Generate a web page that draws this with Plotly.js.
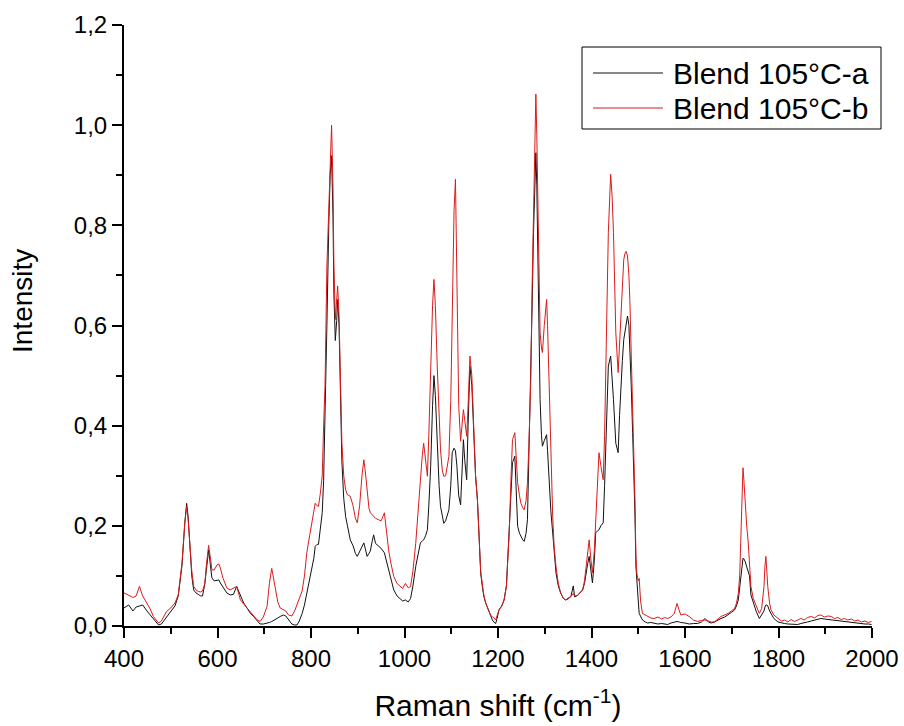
<!DOCTYPE html>
<html>
<head>
<meta charset="utf-8">
<script src="https://cdn.plot.ly/plotly-3.0.1.min.js"></script>
<style>html,body{margin:0;padding:0;background:#fff;}#chart{width:904px;height:726px;}</style>
</head>
<body>
<div id="chart"></div>
<script>
// Raman shift (cm^-1)
const ramanShift = [400,410,419,426,433,440,449,456,463,469,474,480,485,491,500,509,516,524,530,534,537,541,545,549,554,559,564,568,573,576,581,585,588,593,599,603,606,612,620,627,634,641,645,649,656,663,670,677,684,691,698,706,711,716,720,724,729,734,741,746,752,759,765,770,775,781,786,791,797,802,806,809,813,816,820,824,827,830,834,838,841,844,847,849,852,855,857,860,863,866,870,874,878,884,890,895,899,904,909,913,916,920,924,927,931,934,938,945,950,957,961,966,971,977,984,991,996,1002,1008,1013,1018,1024,1030,1034,1038,1041,1045,1049,1052,1056,1060,1063,1066,1070,1074,1077,1081,1084,1088,1091,1095,1099,1102,1106,1109,1112,1116,1120,1123,1126,1129,1133,1136,1140,1144,1149,1152,1156,1160,1163,1167,1170,1174,1180,1184,1188,1191,1195,1198,1202,1208,1213,1218,1224,1228,1231,1236,1239,1242,1246,1249,1253,1256,1260,1263,1266,1270,1273,1276,1279,1281,1283,1286,1290,1293,1295,1299,1304,1306,1309,1313,1317,1320,1324,1329,1334,1340,1345,1350,1356,1361,1364,1370,1376,1381,1385,1388,1392,1395,1399,1402,1406,1409,1413,1416,1420,1425,1428,1431,1436,1441,1444,1447,1452,1457,1460,1463,1466,1469,1472,1474,1477,1480,1482,1485,1488,1491,1493,1495,1497,1500,1502,1505,1509,1515,1520,1527,1534,1542,1550,1556,1563,1570,1577,1583,1588,1591,1600,1609,1618,1627,1635,1643,1650,1656,1663,1670,1677,1685,1692,1699,1706,1710,1714,1717,1720,1722,1724,1726,1729,1732,1735,1738,1741,1746,1752,1759,1764,1769,1771,1773,1775,1777,1781,1784,1790,1799,1806,1813,1820,1827,1834,1841,1848,1855,1862,1870,1877,1884,1891,1898,1906,1913,1920,1927,1934,1941,1948,1956,1963,1970,1977,1985,1992,1999];

// Blend 105°C-a (black)
const blendA = [0.036,0.042,0.030,0.038,0.040,0.042,0.030,0.022,0.016,0.008,0.002,0.004,0.010,0.018,0.028,0.040,0.060,0.120,0.205,0.245,0.220,0.150,0.100,0.072,0.066,0.063,0.060,0.060,0.085,0.110,0.152,0.120,0.096,0.090,0.092,0.092,0.086,0.078,0.066,0.062,0.063,0.079,0.070,0.060,0.046,0.036,0.026,0.019,0.012,0.004,0.004,0.005,0.007,0.009,0.011,0.012,0.016,0.019,0.022,0.020,0.012,0.004,0.002,0.002,0.010,0.025,0.042,0.066,0.090,0.113,0.135,0.159,0.163,0.163,0.192,0.226,0.290,0.400,0.600,0.800,0.900,0.939,0.820,0.660,0.570,0.610,0.652,0.600,0.470,0.330,0.255,0.219,0.200,0.172,0.160,0.145,0.139,0.150,0.160,0.166,0.155,0.139,0.145,0.150,0.170,0.182,0.165,0.159,0.155,0.146,0.130,0.112,0.092,0.072,0.060,0.055,0.050,0.052,0.048,0.055,0.080,0.119,0.150,0.166,0.170,0.172,0.180,0.192,0.240,0.319,0.440,0.500,0.460,0.352,0.280,0.239,0.215,0.205,0.210,0.218,0.232,0.280,0.346,0.355,0.350,0.320,0.260,0.242,0.320,0.372,0.330,0.292,0.400,0.519,0.480,0.362,0.300,0.252,0.165,0.105,0.075,0.058,0.045,0.030,0.022,0.012,0.008,0.005,0.015,0.032,0.040,0.052,0.080,0.186,0.280,0.326,0.339,0.280,0.199,0.185,0.179,0.172,0.169,0.185,0.212,0.330,0.480,0.640,0.786,0.900,0.945,0.880,0.652,0.452,0.380,0.359,0.370,0.382,0.350,0.286,0.230,0.186,0.145,0.106,0.080,0.066,0.055,0.052,0.054,0.059,0.080,0.058,0.061,0.066,0.072,0.085,0.105,0.125,0.139,0.100,0.086,0.130,0.186,0.190,0.192,0.200,0.206,0.280,0.386,0.519,0.539,0.500,0.452,0.365,0.346,0.420,0.486,0.530,0.572,0.590,0.599,0.619,0.600,0.559,0.480,0.386,0.300,0.220,0.120,0.080,0.050,0.025,0.018,0.012,0.008,0.006,0.007,0.005,0.004,0.005,0.004,0.003,0.006,0.008,0.009,0.008,0.007,0.006,0.004,0.005,0.005,0.008,0.015,0.008,0.006,0.008,0.012,0.015,0.018,0.022,0.027,0.032,0.040,0.052,0.080,0.112,0.128,0.135,0.134,0.128,0.118,0.110,0.100,0.062,0.045,0.030,0.015,0.022,0.030,0.038,0.042,0.042,0.040,0.030,0.025,0.015,0.008,0.006,0.005,0.004,0.004,0.003,0.003,0.005,0.006,0.008,0.010,0.012,0.014,0.015,0.014,0.013,0.013,0.012,0.011,0.010,0.010,0.008,0.007,0.006,0.006,0.005,0.004,0.004,0.003];

// Blend 105°C-b (red)
const blendB = [0.066,0.062,0.057,0.060,0.079,0.060,0.046,0.034,0.019,0.012,0.006,0.010,0.018,0.029,0.036,0.046,0.062,0.126,0.205,0.239,0.215,0.159,0.110,0.079,0.072,0.069,0.068,0.070,0.085,0.120,0.161,0.135,0.112,0.112,0.122,0.124,0.116,0.095,0.076,0.072,0.076,0.079,0.066,0.052,0.044,0.036,0.028,0.019,0.013,0.009,0.018,0.039,0.085,0.115,0.095,0.070,0.048,0.036,0.032,0.030,0.022,0.020,0.030,0.042,0.055,0.070,0.100,0.146,0.180,0.206,0.235,0.245,0.240,0.239,0.265,0.300,0.400,0.480,0.719,0.850,0.940,1.000,0.880,0.720,0.612,0.650,0.679,0.620,0.486,0.366,0.300,0.272,0.262,0.259,0.240,0.215,0.206,0.240,0.300,0.332,0.310,0.266,0.235,0.226,0.222,0.219,0.215,0.212,0.210,0.226,0.190,0.152,0.125,0.099,0.085,0.079,0.075,0.085,0.076,0.079,0.110,0.165,0.240,0.299,0.340,0.365,0.330,0.299,0.380,0.519,0.640,0.692,0.640,0.519,0.420,0.352,0.310,0.299,0.300,0.315,0.339,0.450,0.652,0.830,0.892,0.700,0.440,0.369,0.400,0.432,0.410,0.379,0.440,0.539,0.500,0.370,0.300,0.252,0.170,0.110,0.080,0.060,0.045,0.030,0.022,0.018,0.017,0.012,0.020,0.032,0.040,0.052,0.080,0.186,0.300,0.372,0.386,0.330,0.286,0.260,0.245,0.236,0.232,0.250,0.286,0.360,0.486,0.680,0.852,1.000,1.062,0.980,0.786,0.586,0.555,0.546,0.600,0.652,0.600,0.486,0.320,0.219,0.160,0.119,0.085,0.066,0.055,0.052,0.056,0.059,0.065,0.060,0.061,0.068,0.072,0.090,0.119,0.150,0.172,0.130,0.106,0.150,0.219,0.310,0.346,0.320,0.292,0.380,0.519,0.786,0.902,0.860,0.786,0.586,0.506,0.560,0.619,0.690,0.732,0.745,0.748,0.739,0.700,0.652,0.550,0.452,0.330,0.252,0.140,0.105,0.090,0.095,0.050,0.025,0.022,0.019,0.016,0.015,0.018,0.014,0.017,0.015,0.018,0.025,0.045,0.030,0.022,0.024,0.019,0.012,0.009,0.011,0.012,0.010,0.008,0.008,0.014,0.019,0.022,0.025,0.030,0.035,0.045,0.065,0.100,0.180,0.260,0.316,0.290,0.240,0.200,0.170,0.130,0.079,0.055,0.040,0.025,0.035,0.079,0.120,0.139,0.110,0.079,0.045,0.032,0.022,0.015,0.010,0.012,0.008,0.013,0.009,0.012,0.015,0.012,0.017,0.019,0.016,0.021,0.022,0.018,0.020,0.019,0.015,0.017,0.013,0.015,0.012,0.014,0.010,0.012,0.008,0.010,0.007,0.009];

const seriesNames = ['Blend 105°C-a', 'Blend 105°C-b'];
const seriesColors = ['#111111', '#dc1a1a'];
const xTickVals = [400,600,800,1000,1200,1400,1600,1800,2000];
const yTickVals = [0,0.2,0.4,0.6,0.8,1.0,1.2];
const yTickLabels = ['0,0','0,2','0,4','0,6','0,8','1,0','1,2'];

const font = 'Liberation Sans, Arial, sans-serif';

// plot area in page pixels (for placing the hand-drawn legend box)
const W = 904, H = 726, M = {l: 124, r: 32, t: 25, b: 100};
const pw = W - M.l - M.r, ph = H - M.t - M.b;
const px = v => (v - M.l) / pw;
const py = v => (H - M.b - v) / ph;

const traces = seriesNames.map((n, i) => ({
  x: ramanShift, y: i === 0 ? blendA : blendB, name: n, type: 'scatter', mode: 'lines',
  line: {color: seriesColors[i], width: 1}, showlegend: false
}));

const legendRows = [73, 108];
const shapes = [
  {type: 'rect', xref: 'paper', yref: 'paper', x0: px(582), x1: px(881), y0: py(129), y1: py(47),
   line: {color: '#000', width: 1}, fillcolor: '#fff', layer: 'above'}
];
const annotations = [];
seriesNames.forEach((n, i) => {
  shapes.push({type: 'line', xref: 'paper', yref: 'paper', x0: px(593), x1: px(663),
    y0: py(legendRows[i]), y1: py(legendRows[i]), line: {color: seriesColors[i], width: 1}, layer: 'above'});
  annotations.push({xref: 'paper', yref: 'paper', x: px(671), y: py(legendRows[i]), xanchor: 'left', yanchor: 'middle',
    text: n, showarrow: false, font: {family: font, size: 30, color: '#000'}});
});
annotations.push({xref: 'paper', yref: 'paper', x: px(22), y: py(301), xanchor: 'center', yanchor: 'middle',
  text: 'Intensity', textangle: -90, showarrow: false, font: {family: font, size: 28, color: '#000'}});

const layout = {
  width: W, height: H,
  margin: M,
  paper_bgcolor: '#ffffff', plot_bgcolor: '#ffffff',
  font: {family: font, color: '#000'},
  showlegend: false,
  shapes: shapes,
  annotations: annotations,
  xaxis: {
    range: [400, 2000], tickvals: xTickVals,
    showgrid: false, zeroline: false,
    showline: true, linecolor: '#000', linewidth: 2,
    ticks: 'outside', ticklen: 10, tickwidth: 2, tickcolor: '#000',
    minor: {dtick: 100, ticklen: 6, tickwidth: 2, tickcolor: '#000', ticks: 'outside', showgrid: false},
    tickfont: {family: font, size: 24, color: '#000'},
    title: {text: 'Raman shift (cm<sup>-1</sup>)', font: {family: font, size: 30, color: '#000'}, standoff: 24}
  },
  yaxis: {
    range: [0, 1.2], tickvals: yTickVals, ticktext: yTickLabels,
    showgrid: false, zeroline: false,
    showline: true, linecolor: '#000', linewidth: 2,
    ticks: 'outside', ticklen: 10, tickwidth: 2, tickcolor: '#000',
    minor: {dtick: 0.1, ticklen: 6, tickwidth: 2, tickcolor: '#000', ticks: 'outside', showgrid: false},
    tickfont: {family: font, size: 24, color: '#000'}
  }
};

Plotly.newPlot('chart', traces, layout, {displayModeBar: false, staticPlot: true});
</script>
</body>
</html>
